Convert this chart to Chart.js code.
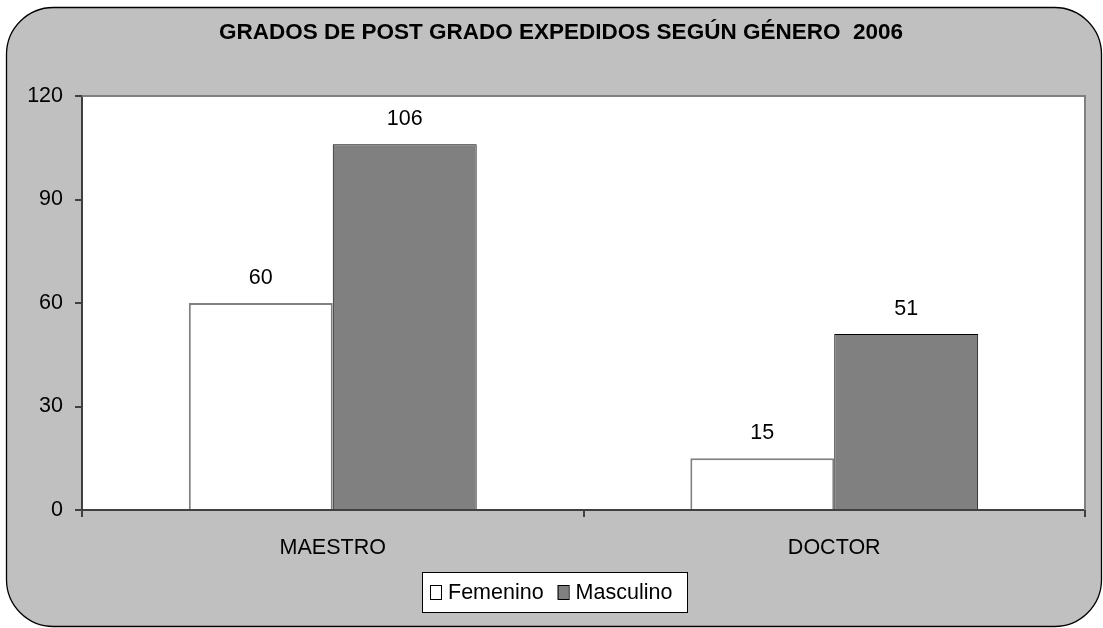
<!DOCTYPE html>
<html>
<head>
<meta charset="utf-8">
<script src="https://cdn.jsdelivr.net/npm/chart.js@4"></script>
<style>
  body { margin: 0; background: #fff; }
  #wrap { width: 1103px; height: 628px; position: relative; }
</style>
</head>
<body>
<div id="wrap"><canvas id="grados"></canvas></div>
<script>
var categories = ['MAESTRO', 'DOCTOR'];
var seriesNames = ['Femenino', 'Masculino'];
var femenino = [60, 15];
var masculino = [106, 51];
var yTicks = [0, 30, 60, 90, 120];
var titleText = 'GRADOS DE POST GRADO EXPEDIDOS SEGÚN GÉNERO  2006';

var FONT = '"Liberation Sans", Arial, sans-serif';

// rounded grey panel + white plot area
var panelPlugin = {
    id: 'panel',
    beforeDraw: function (chart) {
        var ctx = chart.ctx;
        var a = chart.chartArea;
        ctx.save();
        ctx.beginPath();
        ctx.roundRect(6.5, 7.5, 1095, 619, 47);
        ctx.fillStyle = '#c0c0c0';
        ctx.fill();
        ctx.lineWidth = 1.3;
        ctx.strokeStyle = '#000';
        ctx.stroke();
        ctx.fillStyle = '#fff';
        ctx.fillRect(a.left, a.top, a.right - a.left, a.bottom - a.top);
        ctx.restore();
    },
    afterDraw: function (chart) {
        var ctx = chart.ctx;
        var a = chart.chartArea;
        ctx.save();
        // top and right frame
        ctx.strokeStyle = '#808080';
        ctx.lineWidth = 2;
        ctx.beginPath();
        ctx.moveTo(a.left, a.top);
        ctx.lineTo(a.right, a.top);
        ctx.lineTo(a.right, a.bottom);
        ctx.stroke();

        // title
        ctx.fillStyle = '#000';
        ctx.font = 'bold 22.5px ' + FONT;
        ctx.textAlign = 'center';
        ctx.textBaseline = 'middle';
        ctx.fillText(titleText, 561, 33);

        // legend
        ctx.fillStyle = '#fff';
        ctx.fillRect(422, 572, 265, 40);
        ctx.strokeStyle = '#000';
        ctx.lineWidth = 1;
        ctx.strokeRect(422.5, 572.5, 265, 40);
        ctx.font = '21.5px ' + FONT;
        ctx.textAlign = 'left';
        var x = 430;
        chart.data.datasets.forEach(function (ds) {
            ctx.fillStyle = ds.backgroundColor;
            ctx.fillRect(x, 585, 11, 14);
            ctx.strokeStyle = '#000';
            ctx.strokeRect(x + 0.5, 585.5, 11, 14);
            ctx.fillStyle = '#000';
            ctx.fillText(ds.label, x + 18, 593);
            x += 18 + ctx.measureText(ds.label).width + 14;
        });
        ctx.restore();
    },
    afterDatasetsDraw: function (chart) {
        var ctx = chart.ctx;
        ctx.save();
        ctx.fillStyle = '#000';
        ctx.font = '21.5px ' + FONT;
        ctx.textAlign = 'center';
        ctx.textBaseline = 'bottom';
        chart.data.datasets.forEach(function (ds, i) {
            chart.getDatasetMeta(i).data.forEach(function (bar, j) {
                ctx.fillText(ds.data[j], bar.x, bar.y - 14);
            });
        });
        ctx.restore();
    }
};

var ctx = document.getElementById('grados');
var gradosChart = new Chart(ctx, {
    type: 'bar',
    data: {
        labels: categories,
        datasets: [
            {
                label: seriesNames[0],
                data: femenino,
                backgroundColor: '#ffffff',
                borderColor: '#808080',
                borderWidth: 2
            },
            {
                label: seriesNames[1],
                data: masculino,
                backgroundColor: '#808080',
                borderColor: '#000000',
                borderWidth: 1
            }
        ]
    },
    options: {
        responsive: true,
        maintainAspectRatio: false,
        animation: false,
        layout: { padding: { left: 0, right: 18, top: 96, bottom: 0 } },
        datasets: { bar: { categoryPercentage: 0.574, barPercentage: 1 } },
        plugins: {
            legend: { display: false },
            title: { display: false },
            tooltip: { enabled: false }
        },
        scales: {
            x: {
                afterFit: function (scale) { scale.height = 118; },
                grid: { offset: true, drawOnChartArea: false, tickLength: 7, color: '#404040', lineWidth: 2 },
                border: { color: '#404040', width: 2 },
                ticks: { color: '#000', font: { family: FONT, size: 21.5 }, padding: 18 }
            },
            y: {
                min: 0,
                max: 120,
                afterFit: function (scale) { scale.width = 82; },
                afterBuildTicks: function (scale) {
                    scale.ticks = yTicks.map(function (v) { return { value: v }; });
                },
                grid: { drawOnChartArea: false, tickLength: 7, color: '#404040', lineWidth: 2 },
                border: { color: '#404040', width: 2 },
                ticks: { color: '#000', font: { family: FONT, size: 21.5 }, padding: 12 }
            }
        }
    },
    plugins: [panelPlugin]
});
</script>
</body>
</html>
